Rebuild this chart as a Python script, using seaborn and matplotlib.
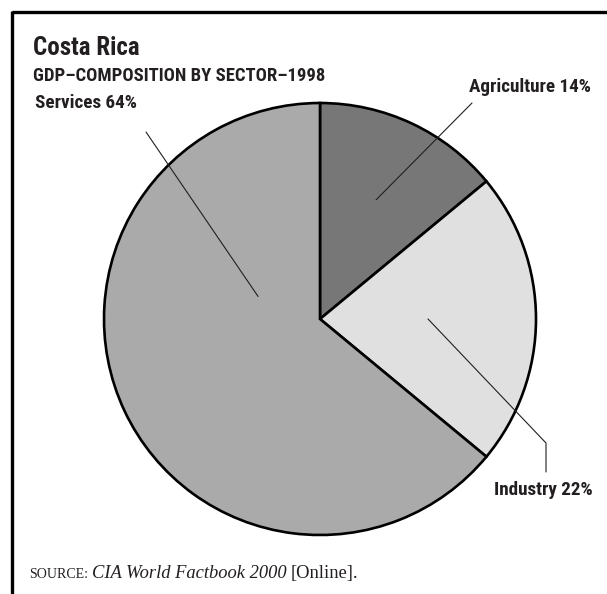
import numpy as np
import matplotlib
matplotlib.use("Agg")
import matplotlib.pyplot as plt
import seaborn as sns

sns.set_style("white")

# ---- data ----
sectors = ["Agriculture", "Industry", "Services"]
shares = [14, 22, 64]
colors = ["#777777", "#e0e0e0", "#aaaaaa"]
title = "Costa Rica"
subtitle = "GDP\u2013COMPOSITION BY SECTOR\u20131998"

W, H = 607, 594
fig = plt.figure(figsize=(W / 100, H / 100), dpi=100)
ax = fig.add_axes([0, 0, 1, 1])

cx, cy, R = 320, H - 319, 216
wedges, _ = ax.pie(shares, colors=colors, startangle=90, counterclock=False,
                   center=(cx, cy), radius=R, frame=True,
                   wedgeprops=dict(edgecolor="black", linewidth=1.9))
ax.set_xlim(0, W)
ax.set_ylim(0, H)
ax.set_aspect("equal")
ax.axis("off")

cond = ["Roboto Condensed", "Archivo Narrow", "DejaVu Sans"]
lab_kw = dict(fontsize=13.8, fontweight="bold", family=cond, fontstretch="condensed",
              color="#231f20")

labels = [f"{s} {v}%" for s, v in zip(sectors, shares)]
anchors = [(64.8, 0.61), (0.0, 0.5), (160.0, 0.305)]

def pt(ang, frac):
    a = np.deg2rad(ang)
    return cx + frac * R * np.cos(a), cy + frac * R * np.sin(a)

lc = "#231f20"
# Agriculture
a0 = pt(*anchors[0])
ax.plot([a0[0], 472], [a0[1], H - 103], color=lc, lw=0.8)
ax.text(530, H - 87, labels[0], ha="center", va="center", **lab_kw)
# Industry
a1 = pt(*anchors[1])
ax.plot([a1[0], 546, 546], [a1[1], H - 443, H - 472], color=lc, lw=0.8)
ax.text(543.5, H - 490, labels[1], ha="center", va="center", **lab_kw)
# Services
a2 = pt(*anchors[2])
ax.plot([a2[0], 146], [a2[1], H - 132], color=lc, lw=0.8)
ax.text(35, H - 103, labels[2], ha="left", va="center", **lab_kw)

# title
ax.text(33, H - 55, title, ha="left", va="baseline", fontsize=18,
        fontweight="bold", family=cond, fontstretch="condensed", color=lc)
ax.text(33, H - 81, subtitle, ha="left", va="baseline", fontsize=13.4,
        fontweight="bold", family=cond, fontstretch="condensed", color=lc)

# frame (top and left)
ax.plot([12, W], [H - 12, H - 12], color="black", lw=2.4, solid_capstyle="butt")
ax.plot([12, 12], [H - 11, 0], color="black", lw=2.4, solid_capstyle="butt")

# source line
fig.canvas.draw()
r = fig.canvas.get_renderer()
serif = ["Liberation Serif", "DejaVu Serif"]
x = 29
yb = H - 578
t1 = ax.text(x, yb, "SOURCE:", fontsize=10, family=serif, va="baseline", color=lc)
bb = t1.get_window_extent(r)
x = bb.x1 + 4
t2 = ax.text(x, yb, "CIA World Factbook 2000", fontsize=13.3, family=serif, style="italic",
             va="baseline", color=lc)
bb = t2.get_window_extent(r)
x = bb.x1 + 4
t3 = ax.text(x, yb, "[Online].", fontsize=13.3, family=serif, va="baseline", color=lc)

fig.savefig("out.png", dpi=100, facecolor="white")
